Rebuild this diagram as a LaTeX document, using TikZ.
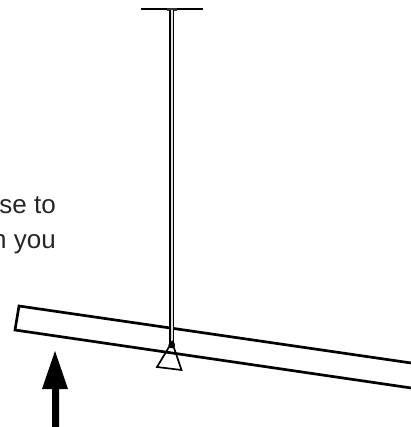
\documentclass[tikz,border=0pt]{standalone}
\usepackage{fontspec}
\setmainfont{Liberation Sans}
\begin{document}
\begin{tikzpicture}[x=1pt,y=-1pt,line join=miter,
  bold/.style={draw=black,line width=2.7pt},
  rod/.style={draw=black,line width=1.3pt},
  caption/.style={anchor=base east,inner sep=0pt,text=black!85,font=\fontsize{26}{30}\selectfont}]
\useasboundingbox (0,0) rectangle (410,427);
% beam
\draw[bold] (425,365) -- (19,306) -- (15,330) -- (425,390);
% ceiling bar
\draw[draw=black,line width=2pt] (141,9) -- (203,9);
\fill[black!80] (167,8.5) rectangle (177,11);
% rod
\fill[black!12] (170,10) rectangle (173.6,343);
\draw[rod] (170,10) -- (170,343);
\draw[rod] (173.6,10) -- (173.6,343);
% pivot
\draw[draw=black,line width=1.7pt,line join=miter] (172,342) -- (157,367) -- (181.5,370) -- cycle;
\fill[black] (171.8,345) circle (3.4);
% arrow
\fill[black] (52,427) -- (52,389) -- (42,389) -- (55,351) -- (68,389) -- (59,389) -- (59,427) -- cycle;
% text
\node[caption] (line1) at (56,213) {se to};
\node[caption] (line2) at (56,248) {n you};
\end{tikzpicture}
\end{document}
